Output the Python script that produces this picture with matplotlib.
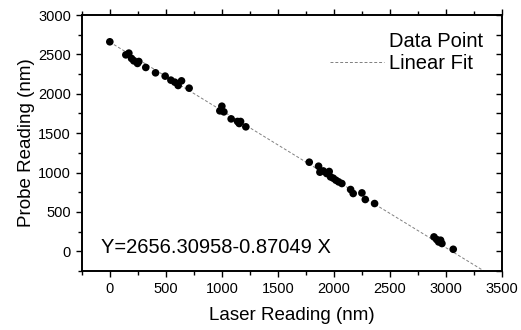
import numpy as np
import matplotlib.pyplot as plt
from matplotlib.lines import Line2D
from matplotlib.ticker import MultipleLocator

plt.rcParams['font.family'] = ['Liberation Sans', 'DejaVu Sans']

laser = [0, 143, 170, 194, 214, 247, 259, 321, 408, 494, 545, 580, 610, 640, 708,
         982, 1000, 1018, 1083, 1140, 1155, 1167, 1214,
         1780, 1863, 1875, 1905, 1935, 1958, 1970, 1994, 2018, 2042, 2071,
         2149, 2172, 2250, 2280, 2363,
         2893, 2917, 2935, 2952, 2964, 3065]
probe = [2660, 2494, 2516, 2448, 2418, 2385, 2410, 2334, 2266, 2224, 2173, 2147, 2105, 2164, 2071,
         1783, 1842, 1770, 1681, 1648, 1622, 1648, 1580,
         1131, 1080, 1004, 1020, 987, 1013, 944, 928, 902, 881, 860,
         784, 733, 741, 657, 606,
         182, 149, 118, 140, 98, 25]

intercept = 2656.30958
slope = -0.87049
fit_x = np.array([0, 3340])

fig = plt.figure(figsize=(5.21, 3.30), dpi=100)
ax = fig.add_axes([0.157, 0.179, 0.8065, 0.7755])

fit_style = dict(color='0.5', lw=0.7, ls=(0, (3, 2)))
ax.plot(fit_x, intercept + slope * fit_x, zorder=1, **fit_style)
ax.scatter(laser, probe, s=30, color='black', edgecolors='none', zorder=2)

ax.set_xlim(-250, 3500)
ax.set_ylim(-250, 3000)
ax.xaxis.set_major_locator(MultipleLocator(500))
ax.xaxis.set_minor_locator(MultipleLocator(250))
ax.yaxis.set_major_locator(MultipleLocator(500))
ax.yaxis.set_minor_locator(MultipleLocator(250))
ax.tick_params(which='both', direction='out', top=True, right=False, labelsize=10.5, width=1)
ax.tick_params(which='major', length=4.3)
ax.tick_params(which='minor', length=3)

# right-hand ticks point inward in the original
axr = ax.twinx()
axr.set_ylim(ax.get_ylim())
axr.yaxis.set_major_locator(MultipleLocator(250))
axr.tick_params(axis='y', direction='in', length=4, width=1, labelright=False)
for s in list(ax.spines.values()) + list(axr.spines.values()):
    s.set_linewidth(1.2)

ax.set_xlabel('Laser Reading (nm)', fontsize=13.5, labelpad=8)
ax.set_ylabel('Probe Reading (nm)', fontsize=13.5, labelpad=2)

ax.text(0.045, 0.055, 'Y=2656.30958-0.87049 X', transform=ax.transAxes,
        fontsize=14.5, ha='left', va='bottom')

handles = [Line2D([], [], ls='none'), Line2D([], [], **fit_style)]
axr.legend(handles, ['Data Point', 'Linear Fit'], loc='upper left', frameon=False,
           fontsize=14.5, handlelength=2.7, handletextpad=0.25, labelspacing=0.15,
           borderpad=0, borderaxespad=0, bbox_to_anchor=(0.59, 0.935))

fig.savefig('out.png', dpi=100)
